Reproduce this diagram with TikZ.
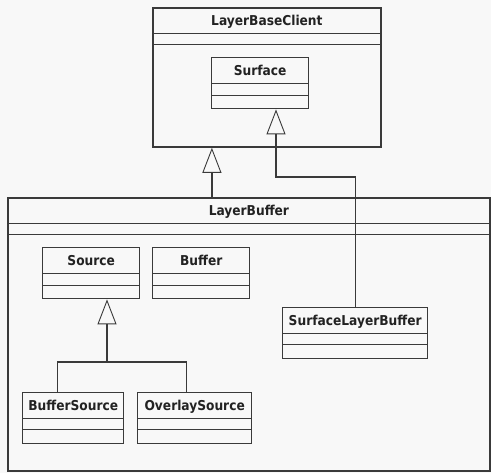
\documentclass[tikz,border=0pt]{standalone}
\usepackage{fontspec}
\setmainfont{DejaVu Sans Condensed}
\usetikzlibrary{arrows.meta}
\definecolor{paper}{HTML}{F8F8F8}
\definecolor{ink}{HTML}{3A3A3A}
\definecolor{textink}{HTML}{222222}
\tikzset{
	classbox/.style={draw=ink,line width=1.4pt,fill=paper,rectangle,anchor=north west,inner sep=0pt},
	package/.style={classbox,line width=1.8pt},
	classname/.style={font=\fontsize{13.6}{15}\selectfont\bfseries,text=textink,inner sep=0pt,text height=10pt,text depth=0pt},
	divider/.style={draw=ink,line width=1pt},
	inherit/.style={draw=ink,line width=1.4pt,-{Triangle[open,length=25pt,width=19pt,line width=0.9pt]}},
	link/.style={draw=ink,line width=1.4pt}
}
\begin{document}
\begin{tikzpicture}[x=1pt,y=-1pt]
		\fill[paper] (0,0) rectangle (491,473);
		\useasboundingbox (0,0) rectangle (491,473);
		
		\node[package,minimum width=228pt,minimum height=139pt] (layerbaseclient) at (152,7) {};
		\node[package,minimum width=482pt,minimum height=273pt] (layerbuffer) at (7,197) {};
		\node[classbox,minimum width=97pt,minimum height=51pt] (surface) at (211,57) {};
		\node[classbox,minimum width=97pt,minimum height=51pt] (source) at (42,247) {};
		\node[classbox,minimum width=97pt,minimum height=51pt] (buffer) at (152,247) {};
		\node[classbox,minimum width=101pt,minimum height=51pt] (buffersource) at (22,392) {};
		\node[classbox,minimum width=114pt,minimum height=51pt] (overlaysource) at (137,392) {};
		\node[classbox,minimum width=145pt,minimum height=51pt] (slbuffer) at (282,307) {};
		
		\node[classname] (layerbaseclient-name) at ([yshift=-13.5pt]layerbaseclient.north) {LayerBaseClient};
		\node[classname] (layerbuffer-name) at ([yshift=-13.5pt]layerbuffer.north) {LayerBuffer};
		\node[classname] (surface-name) at ([yshift=-13.5pt]surface.north) {Surface};
		\node[classname] (source-name) at ([yshift=-13.5pt]source.north) {Source};
		\node[classname] (buffer-name) at ([yshift=-13.5pt]buffer.north) {Buffer};
		\node[classname] (buffersource-name) at ([yshift=-13.5pt]buffersource.north) {BufferSource};
		\node[classname] (overlaysource-name) at ([yshift=-13.5pt]overlaysource.north) {OverlaySource};
		\node[classname] (slbuffer-name) at ([yshift=-13.5pt]slbuffer.north) {SurfaceLayerBuffer};
		
		% compartments
		\foreach \n/\a/\b in {layerbaseclient/27/38,layerbuffer/27/38,surface/27/39,source/27/39,buffer/27/39,buffersource/27/38,overlaysource/27/38,slbuffer/27/38}{
			\draw[divider] ([yshift=-\a pt]\n.north west) -- ([yshift=-\a pt]\n.north east);
			\draw[divider] ([yshift=-\b pt]\n.north west) -- ([yshift=-\b pt]\n.north east);
		}
		
		\coordinate (surfacejoin) at (276,177);
		\coordinate (sourcejoin) at (107,362);
		
		\draw[inherit] ([xshift=-55pt]layerbuffer.north -| layerbaseclient.south) -- ([xshift=-55pt]layerbaseclient.south);
		\draw[inherit] (slbuffer.north) |- (surfacejoin) -- (surfacejoin |- surface.south);
		\draw[inherit] ([xshift=-15.5pt]buffersource.north) |- (sourcejoin) -- (sourcejoin |- source.south);
		\draw[link] (sourcejoin) -| ([xshift=-8pt]overlaysource.north);
	\end{tikzpicture}
\end{document}
